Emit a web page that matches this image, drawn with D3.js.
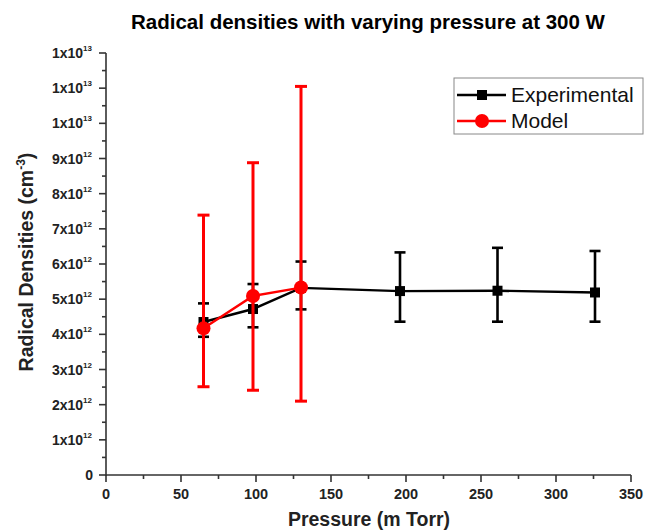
<!DOCTYPE html>
<html><head><meta charset="utf-8">
<script src="https://cdn.jsdelivr.net/npm/d3@7"></script>
<style>body{margin:0;background:#fff}svg{display:block;font-family:"Liberation Sans",Arial,sans-serif}</style>
</head><body><svg id="c" width="647" height="530"></svg>
<script>
const pressureExp = [65, 98, 130, 196, 261, 326];
const densExp     = [4.35e12, 4.72e12, 5.32e12, 5.23e12, 5.24e12, 5.19e12];
const errExpHi    = [4.88e12, 5.43e12, 6.07e12, 6.33e12, 6.46e12, 6.37e12];
const errExpLo    = [3.93e12, 4.20e12, 4.71e12, 4.36e12, 4.36e12, 4.36e12];
const pressureMod = [65, 98, 130];
const densMod     = [4.17e12, 5.09e12, 5.33e12];
const errModHi    = [7.39e12, 8.88e12, 1.105e13];
const errModLo    = [2.51e12, 2.41e12, 2.10e12];
const yTickValues = [0,1e12,2e12,3e12,4e12,5e12,6e12,7e12,8e12,9e12,1e13,1.1e13,1.2e13];
const yTickMant   = ["0","1","2","3","4","5","6","7","8","9","1","1","1"];
const yTickExp    = ["","12","12","12","12","12","12","12","12","12","13","13","13"];
const xTickValues = [0,50,100,150,200,250,300,350];
const legendNames = ["Experimental","Model"];

const svg = d3.select("#c");
const x = d3.scaleLinear().domain([0,350]).range([106,631]);
const y = d3.scaleLinear().domain([0,1.2e13]).range([475,53]);
const axisCol = "#333";

// title
svg.append("text").attr("x",368).attr("y",29).attr("text-anchor","middle")
  .attr("font-weight","bold").attr("font-size",20.5).text("Radical densities with varying pressure at 300 W");

// x axis
const gx = svg.append("g");
gx.append("line").attr("x1",x(0)).attr("x2",x(350)).attr("y1",y(0)).attr("y2",y(0)).attr("stroke",axisCol).attr("stroke-width",1.6);
d3.range(0,351,25).forEach(v=>{
  const major = v%50===0;
  gx.append("line").attr("x1",x(v)).attr("x2",x(v)).attr("y1",y(0)).attr("y2",y(0)+(major?7:4))
    .attr("stroke",axisCol).attr("stroke-width",1.6);
});
gx.selectAll("text.xt").data(xTickValues).enter().append("text")
  .attr("x",d=>x(d)).attr("y",499).attr("text-anchor","middle").attr("font-weight","bold")
  .attr("font-size",14.5).attr("fill","#222").text(d=>d);
svg.append("text").attr("x",369).attr("y",526).attr("text-anchor","middle").attr("font-weight","bold")
  .attr("font-size",19.5).attr("fill","#222").text("Pressure (m Torr)");

// y axis
const gy = svg.append("g");
gy.append("line").attr("x1",x(0)).attr("x2",x(0)).attr("y1",y(0)+1).attr("y2",y(1.2e13)).attr("stroke",axisCol).attr("stroke-width",1.6);
d3.range(0,1.2e13+1,0.5e12).forEach(v=>{
  const major = Math.round(v/0.5e12)%2===0;
  gy.append("line").attr("x1",x(0)-(major?7:4)).attr("x2",x(0)).attr("y1",y(v)).attr("y2",y(v))
    .attr("stroke",axisCol).attr("stroke-width",1.6);
});
yTickValues.forEach((v,i)=>{
  const t = gy.append("text").attr("x",i===0?93:92).attr("y",y(v)+5).attr("text-anchor","end")
    .attr("font-weight","bold").attr("font-size",14).attr("fill","#222");
  if(i===0){ t.text("0"); }
  else {
    t.append("tspan").text(yTickMant[i]+"x10");
    t.append("tspan").attr("font-size",8).attr("dy",-7).text(yTickExp[i]);
  }
});
const yl = svg.append("text").attr("transform","translate(33,262) rotate(-90)").attr("text-anchor","middle")
  .attr("font-weight","bold").attr("font-size",19.5).attr("fill","#222");
yl.append("tspan").text("Radical Densities (cm");
yl.append("tspan").attr("font-size",12).attr("dy",-8).text("-3");
yl.append("tspan").attr("dy",8).text(")");

// series
const expData = pressureExp.map((p,i)=>({p,v:densExp[i],hi:errExpHi[i],lo:errExpLo[i]}));
const modData = pressureMod.map((p,i)=>({p,v:densMod[i],hi:errModHi[i],lo:errModLo[i]}));
const line = d3.line().x(d=>x(d.p)).y(d=>y(d.v));

function errBars(data,col,w,cap){
  const g = svg.append("g").attr("stroke",col).attr("stroke-width",w);
  data.forEach(d=>{
    g.append("line").attr("x1",x(d.p)).attr("x2",x(d.p)).attr("y1",y(d.hi)).attr("y2",y(d.lo));
    g.append("line").attr("x1",x(d.p)-cap).attr("x2",x(d.p)+cap).attr("y1",y(d.hi)).attr("y2",y(d.hi));
    g.append("line").attr("x1",x(d.p)-cap).attr("x2",x(d.p)+cap).attr("y1",y(d.lo)).attr("y2",y(d.lo));
  });
}
errBars(expData,"#000",2.6,5.5);
svg.append("path").datum(expData).attr("d",line).attr("fill","none").attr("stroke","#000").attr("stroke-width",2.4);
svg.selectAll("rect.e").data(expData).enter().append("rect")
  .attr("x",d=>x(d.p)-5).attr("y",d=>y(d.v)-5).attr("width",10).attr("height",10).attr("fill","#000");

errBars(modData,"#f00",3,6);
svg.append("path").datum(modData).attr("d",line).attr("fill","none").attr("stroke","#f00").attr("stroke-width",2.4);
svg.selectAll("circle.m").data(modData).enter().append("circle")
  .attr("cx",d=>x(d.p)).attr("cy",d=>y(d.v)).attr("r",7).attr("fill","#f00");

// legend
const lg = svg.append("g");
lg.append("rect").attr("x",454).attr("y",78).attr("width",189).attr("height",56).attr("fill","#fff").attr("stroke","#888").attr("stroke-width",1);
[0,1].forEach(i=>{
  const yy = 95 + i*26, col = i===0?"#000":"#f00";
  lg.append("line").attr("x1",457).attr("x2",506).attr("y1",yy).attr("y2",yy).attr("stroke",col).attr("stroke-width",2.4);
  if(i===0) lg.append("rect").attr("x",477).attr("y",yy-5).attr("width",10).attr("height",10).attr("fill",col);
  else lg.append("circle").attr("cx",482).attr("cy",yy).attr("r",7).attr("fill",col);
  lg.append("text").attr("x",511).attr("y",yy+7).attr("font-size",21).attr("fill","#111").text(legendNames[i]);
});
</script></body></html>
